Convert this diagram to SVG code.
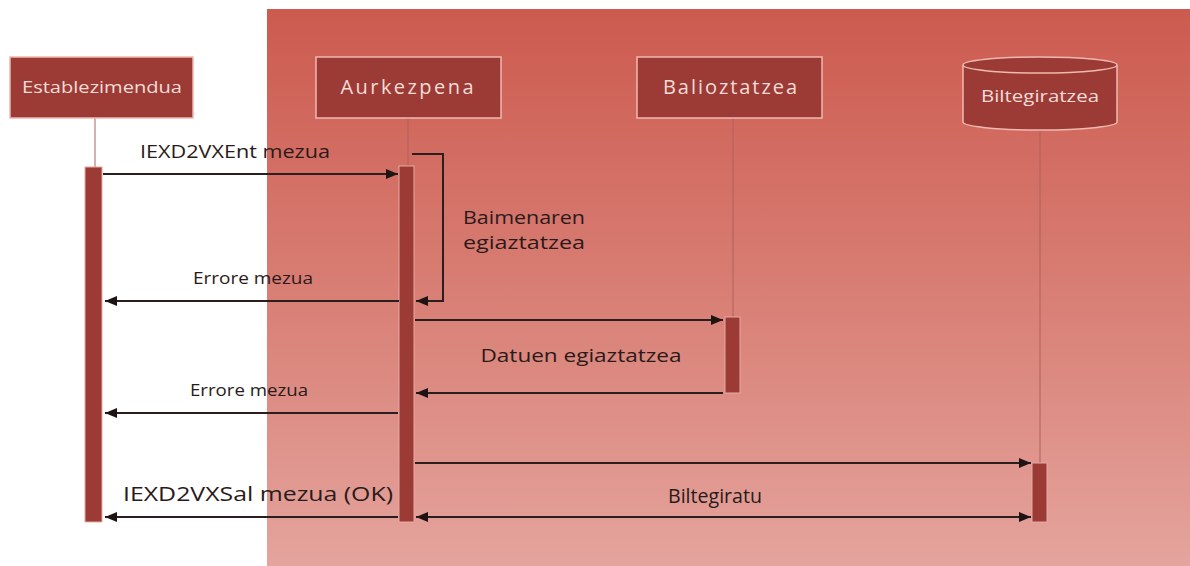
<svg xmlns="http://www.w3.org/2000/svg" width="1190" height="566" viewBox="0 0 1190 566">
<defs>
<linearGradient id="bg" x1="0" y1="0" x2="0" y2="1">
<stop offset="0" stop-color="#cc5a4f"/>
<stop offset="0.45" stop-color="#d77a70"/>
<stop offset="1" stop-color="#e4a49d"/>
</linearGradient>
<marker id="ah" viewBox="0 0 12 10" refX="12" refY="5" markerWidth="12" markerHeight="10" markerUnits="userSpaceOnUse" orient="auto-start-reverse">
<path d="M0,0 L12,5 L0,10 Z" fill="#1e1414"/>
</marker>
<style>
.box{fill:#9c3b36;stroke:#efb9b0;stroke-width:1.5}
.nt{font-family:"Open Sans","Liberation Sans",sans-serif;fill:#f4dcd6;text-anchor:middle}
.life{stroke:#b0605a;stroke-width:1}
.act{fill:#9c3b36;stroke:#e8aaa2;stroke-width:1}
.msg{stroke:#2a1e1e;stroke-width:2;fill:none}
.lbl{font-family:"Open Sans","Liberation Sans",sans-serif;fill:#2a1a1a;text-anchor:middle}
.st{text-anchor:start}
</style>
</defs>
<rect x="0" y="0" width="1190" height="566" fill="#ffffff"/>
<rect x="267" y="9" width="923" height="557" fill="url(#bg)"/>

<g id="lifelines">
<line class="life" x1="95" y1="118" x2="95" y2="167"/>
<line class="life" x1="408" y1="118" x2="408" y2="166"/>
<line class="life" x1="733" y1="118" x2="733" y2="317"/>
<line class="life" x1="1040" y1="131" x2="1040" y2="463"/>
</g>

<g id="establezimendua">
<rect class="box" x="10" y="57" width="183" height="61"/>
<text class="nt" x="102" y="93" font-size="17" textLength="160" lengthAdjust="spacingAndGlyphs">Establezimendua</text>
<rect class="act" x="85" y="167" width="17" height="355"/>
</g>
<g id="aurkezpena">
<rect class="box" x="316" y="57" width="185" height="61"/>
<text class="nt" x="407" y="94" font-size="20" textLength="133" lengthAdjust="spacing">Aurkezpena</text>
<rect class="act" x="399" y="166" width="15" height="356"/>
</g>
<g id="balioztatzea">
<rect class="box" x="637" y="57" width="185" height="61"/>
<text class="nt" x="730" y="94" font-size="20" textLength="134" lengthAdjust="spacing">Balioztatzea</text>
<rect class="act" x="725" y="317" width="15" height="76"/>
</g>
<g id="biltegiratzea">
<path class="box" d="M963,65 L963,122 A77,8 0 0 0 1117,122 L1117,65"/>
<ellipse class="box" cx="1040" cy="65" rx="77" ry="8"/>
<text class="nt" x="1040" y="102" font-size="17" textLength="118" lengthAdjust="spacingAndGlyphs">Biltegiratzea</text>
<rect class="act" x="1032" y="463" width="15" height="59"/>
</g>

<g id="connectors">
<line class="msg" x1="103" y1="174" x2="398" y2="174" marker-end="url(#ah)"/>
<polyline class="msg" points="412,154 443,154 443,301 416,301" marker-end="url(#ah)"/>
<line class="msg" x1="399" y1="301" x2="105" y2="301" marker-end="url(#ah)"/>
<line class="msg" x1="415" y1="320" x2="723" y2="320" marker-end="url(#ah)"/>
<line class="msg" x1="723" y1="393" x2="416" y2="393" marker-end="url(#ah)"/>
<line class="msg" x1="398" y1="413" x2="105" y2="413" marker-end="url(#ah)"/>
<line class="msg" x1="415" y1="463" x2="1031" y2="463" marker-end="url(#ah)"/>
<line class="msg" x1="398" y1="517" x2="105" y2="517" marker-end="url(#ah)"/>
<line class="msg" x1="416" y1="517" x2="1031" y2="517" marker-start="url(#ah)" marker-end="url(#ah)"/>
</g>

<g id="labels">
<text class="lbl" x="235" y="158" font-size="19" textLength="190" lengthAdjust="spacingAndGlyphs">IEXD2VXEnt mezua</text>
<text class="lbl st" x="463" y="224" font-size="19" textLength="122" lengthAdjust="spacingAndGlyphs">Baimenaren</text>
<text class="lbl st" x="463" y="249" font-size="19" textLength="122" lengthAdjust="spacingAndGlyphs">egiaztatzea</text>
<text class="lbl" x="253" y="284" font-size="16" textLength="120" lengthAdjust="spacingAndGlyphs">Errore mezua</text>
<text class="lbl" x="581" y="362" font-size="19" textLength="201" lengthAdjust="spacingAndGlyphs">Datuen egiaztatzea</text>
<text class="lbl" x="249" y="396" font-size="16" textLength="118" lengthAdjust="spacingAndGlyphs">Errore mezua</text>
<text class="lbl" x="258" y="501" font-size="20" textLength="270" lengthAdjust="spacingAndGlyphs">IEXD2VXSal mezua (OK)</text>
<text class="lbl" x="715" y="503" font-size="20" textLength="94" lengthAdjust="spacingAndGlyphs">Biltegiratu</text>
</g>
</svg>
